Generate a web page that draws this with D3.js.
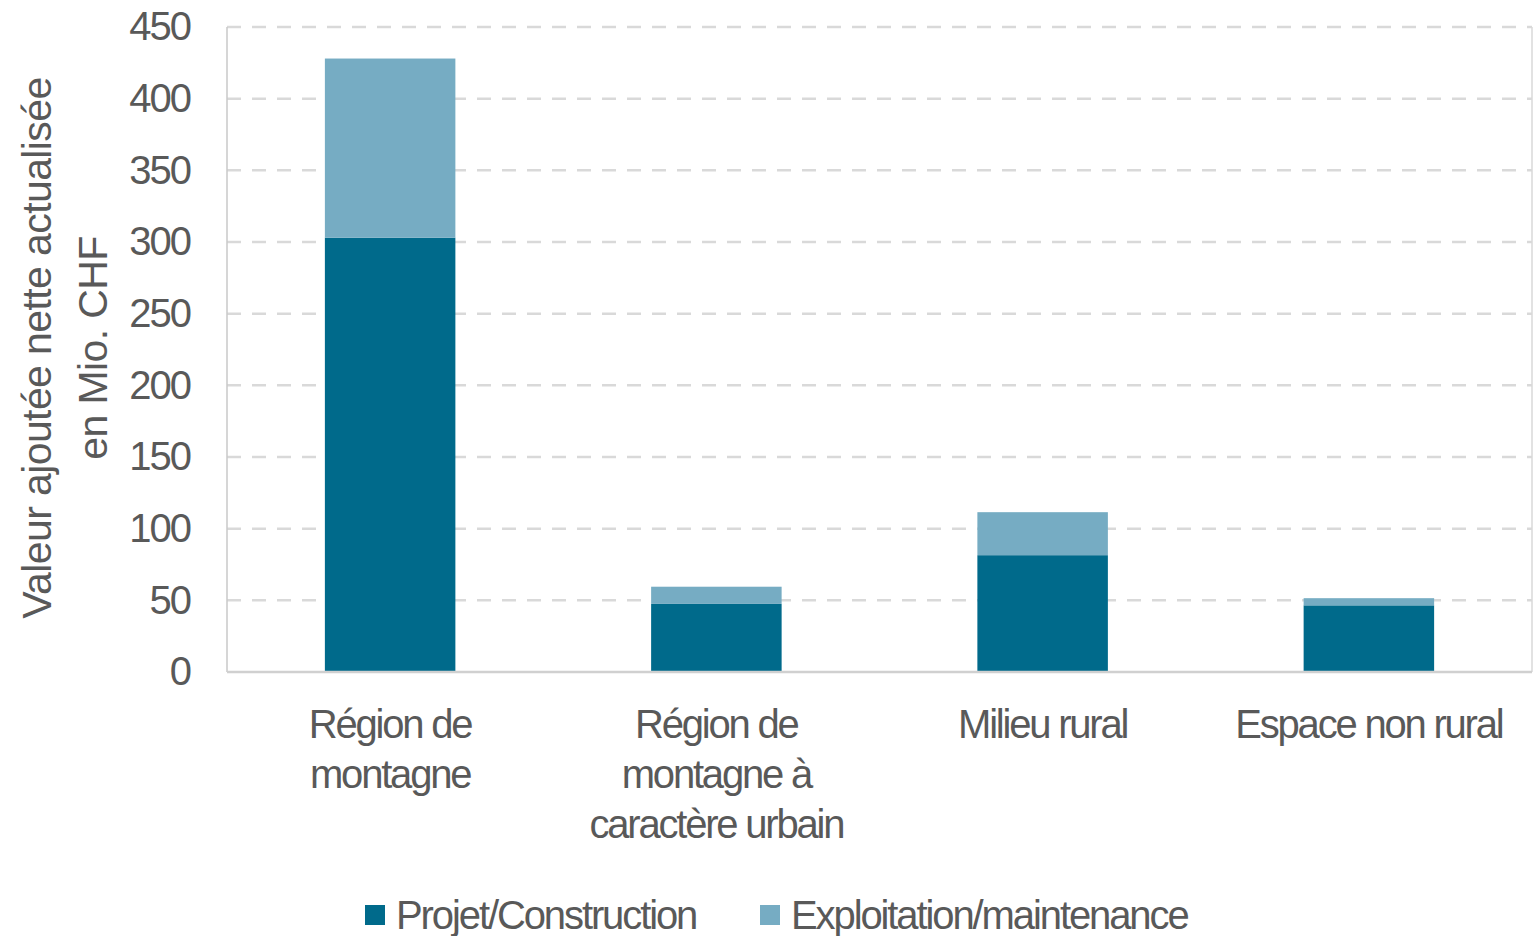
<!DOCTYPE html>
<html>
<head>
<meta charset="utf-8">
<script src="https://cdn.jsdelivr.net/npm/d3@7"></script>
<style>
  html, body { margin: 0; padding: 0; background: #fff; }
  svg text { font-family: "Liberation Sans", Arial, sans-serif; fill: #595959; }
</style>
</head>
<body>
<div id="chart"></div>
<script>
// Données
const categories = [
  ["Région de", "montagne"],
  ["Région de", "montagne à", "caractère urbain"],
  ["Milieu rural"],
  ["Espace non rural"]
];
const projetConstruction = [303, 47.5, 81.5, 46.5];
const exploitationMaintenance = [125, 12, 30, 5];
const series = ["Projet/Construction", "Exploitation/maintenance"];
const yTicks = [0, 50, 100, 150, 200, 250, 300, 350, 400, 450];

const W = 1533, H = 936;
const margin = { top: 27, right: 1, bottom: 264, left: 227 };
const width = W - margin.left - margin.right;
const height = H - margin.top - margin.bottom;
const colors = ["#006a8b", "#76acc3"];

const svg = d3.select("#chart").append("svg")
  .attr("width", W).attr("height", H);

const g = svg.append("g")
  .attr("transform", `translate(${margin.left},${margin.top})`);

const keys = categories.map((c, i) => i);
const x = d3.scaleBand().domain(keys).range([0, width]).paddingInner(0.6).paddingOuter(0.3);
const y = d3.scaleLinear().domain([0, 450]).range([height, 0]);

// Lignes de grille
g.append("g").selectAll("line")
  .data(yTicks.filter(d => d > 0))
  .join("line")
  .attr("x1", 0).attr("x2", width)
  .attr("y1", d => y(d)).attr("y2", d => y(d))
  .attr("stroke", "#d9d9d9")
  .attr("stroke-width", 2.5)
  .attr("stroke-dasharray", "14,11");

// Cadre
g.append("line").attr("x1", width).attr("x2", width).attr("y1", 0).attr("y2", height)
  .attr("stroke", "#d9d9d9").attr("stroke-width", 1.5);
g.append("line").attr("x1", 0).attr("x2", 0).attr("y1", 0).attr("y2", height)
  .attr("stroke", "#c8c8c8").attr("stroke-width", 1.5);

// Barres empilées
const data = keys.map(i => ({ i, a: projetConstruction[i], b: exploitationMaintenance[i] }));
const stack = d3.stack().keys(["a", "b"])(data);

g.selectAll("g.layer")
  .data(stack)
  .join("g")
  .attr("class", "layer")
  .attr("fill", (d, k) => colors[k])
  .selectAll("rect")
  .data(d => d)
  .join("rect")
  .attr("x", d => x(d.data.i))
  .attr("width", x.bandwidth())
  .attr("y", d => y(d[1]))
  .attr("height", d => y(d[0]) - y(d[1]));

// Axe horizontal
g.append("line").attr("x1", 0).attr("x2", width).attr("y1", height).attr("y2", height)
  .attr("stroke", "#d0d0d0").attr("stroke-width", 2.5);

// Axe Y
const yAxis = g.append("g")
  .call(d3.axisLeft(y).tickValues(yTicks).tickSize(0).tickPadding(37));
yAxis.select(".domain").remove();
yAxis.selectAll("text")
  .style("font-size", "40px")
  .style("letter-spacing", "-2px")
  .style("fill", "#595959");

// Libellés des catégories
const xl = g.append("g").attr("transform", `translate(0,${height})`);
categories.forEach((lines, i) => {
  const t = xl.append("text")
    .attr("text-anchor", "middle")
    .attr("x", x(i) + x.bandwidth() / 2)
    .attr("y", 66)
    .style("font-size", "40px")
    .style("letter-spacing", "-2.2px");
  lines.forEach((l, j) => {
    t.append("tspan").attr("x", x(i) + x.bandwidth() / 2).attr("dy", j === 0 ? 0 : 50).text(l);
  });
});

// Titre de l'axe Y
const yt = svg.append("text")
  .attr("transform", `translate(51,348) rotate(-90)`)
  .attr("text-anchor", "middle")
  .style("font-size", "41px")
  .style("letter-spacing", "-0.6px");
yt.append("tspan").attr("x", 0).attr("dy", 0).text("Valeur ajoutée nette actualisée");
yt.append("tspan").attr("x", 0).attr("dy", 56).text("en Mio. CHF");

// Légende
const legendX = [365, 760];
const legend = svg.append("g");
series.forEach((s, k) => {
  legend.append("rect")
    .attr("x", legendX[k]).attr("y", 905)
    .attr("width", 20).attr("height", 20)
    .attr("fill", colors[k]);
  legend.append("text")
    .attr("x", legendX[k] + 31).attr("y", 929)
    .style("font-size", "40px")
    .style("letter-spacing", "-2.1px")
    .text(s);
});
</script>
</body>
</html>
